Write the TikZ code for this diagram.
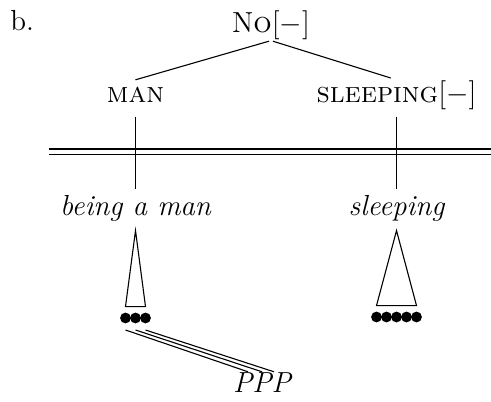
\documentclass[tikz,border=0pt]{standalone}
\begin{document}
\begin{tikzpicture}[x=0.5pt, y=-0.5pt, font=\fontsize{14.5}{17}\selectfont,
  cat/.style={anchor=base, inner sep=0pt, text height=10.9pt, text depth=3.6pt},
  edge/.style={line width=0.55pt},
  stem/.style={edge, shorten <=3.5pt, shorten >=2pt}]
\useasboundingbox (0,0) rectangle (491,401);
\node[anchor=base west, inner sep=0pt] (ex) at (10,31) {b.};
\node[cat] (no) at (271,33) {N\textsc{o}[$-$]};
\node[cat] (man) at (135.5,102) {\textsc{man}};
\node[cat] (sleeping) at (396.5,102) {\textsc{sleeping}[$-$]};
\node[cat] (beingman) at (135.5,215) {\itshape being a man};
\node[cat] (sleepingw) at (396.5,215) {\itshape sleeping};
\node[anchor=base, inner sep=0pt] (ppp) at (262,392) {\itshape PPP};

\draw[edge, shorten <=1pt] (no.south) -- (man.north);
\draw[edge, shorten <=1pt, shorten >=3pt] (no.south) -- (sleeping.north);
\draw[edge, double, double distance=2pt] (49,151.5) -- (491,151.5);
\draw[stem] (man.south) -- (beingman.north);
\draw[stem] (sleeping.south) -- (sleepingw.north);

% roofs
\draw[edge] ([yshift=-4pt]beingman.south) -- ++(-10,76) -- ++(20,0) -- cycle;
\draw[edge] ([yshift=-4pt]sleepingw.south) -- ++(-20,75) -- ++(40,0) -- cycle;
\foreach \x [count=\i] in {125.5,135.5,145.5}
  \fill (\x,318) coordinate (m\i) circle[radius=2.7pt];
\foreach \x in {376.5,386.5,...,416.5}
  \fill (\x,317) circle[radius=2.7pt];

\draw[edge] ([yshift=-6pt]m1) -- ([xshift=-7pt]ppp.north);
\draw[edge] ([yshift=-6pt]m2) -- (ppp.north);
\draw[edge] ([yshift=-6pt]m3) -- ([xshift=6pt]ppp.north);
\end{tikzpicture}
\end{document}
